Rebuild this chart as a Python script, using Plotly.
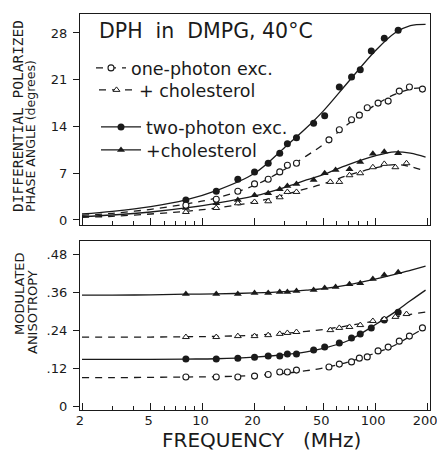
import plotly.graph_objects as go

# ---------------- data ----------------
# frequencies (MHz) of measured points
F_TP = [8, 12, 16, 20, 24, 28, 31, 35, 44, 51, 62, 73, 82, 95, 113, 136]        # two-photon
F_TPC = [8, 12, 16, 20, 24, 28, 31, 35, 44, 51, 59, 71, 82, 97, 113, 136]       # two-photon + chol
F_OP = [8, 12, 16, 20, 24, 28, 31, 35, 54, 62, 73, 81, 90, 104, 119, 138, 158, 188]  # one-photon
F_OPC = [8, 12, 16, 20, 24, 28, 31, 35, 55, 62, 71, 82, 97, 113, 131, 152]      # one-photon + chol

# differential polarized phase angle (degrees)
DPA_TP = [3.0, 4.3, 6.1, 7.2, 8.5, 10.0, 11.4, 12.3, 14.5, 15.6, 19.9, 21.4, 22.5, 25.3, 27.2, 28.4]
DPA_TPC = [1.8, 2.5, 3.0, 3.7, 4.0, 4.6, 5.1, 5.4, 6.0, 7.0, 7.5, 7.6, 8.7, 9.9, 10.2, 10.0]
DPA_OP = [2.2, 3.1, 4.3, 5.4, 6.1, 7.2, 8.2, 8.5, 12.0, 13.5, 15.0, 15.7, 16.8, 17.5, 17.8, 19.3, 19.9, 19.6]
DPA_OPC = [1.2, 1.8, 2.5, 2.7, 2.8, 3.4, 4.2, 4.2, 5.7, 5.7, 6.7, 7.0, 7.9, 8.4, 7.9, 8.5]

# modulated anisotropy
MA_TP = [0.149, 0.149, 0.152, 0.155, 0.159, 0.159, 0.165, 0.165, 0.178, 0.187, 0.200, 0.216, 0.229, 0.248, 0.273, 0.298]
MA_TPC = [0.356, 0.356, 0.356, 0.359, 0.359, 0.362, 0.362, 0.365, 0.368, 0.375, 0.378, 0.387, 0.390, 0.403, 0.416, 0.425]
MA_OP = [0.092, 0.092, 0.092, 0.095, 0.100, 0.108, 0.108, 0.114, 0.124, 0.133, 0.140, 0.152, 0.156, 0.175, 0.187, 0.206, 0.222, 0.248]
MA_OPC = [0.219, 0.219, 0.222, 0.222, 0.225, 0.229, 0.232, 0.235, 0.241, 0.248, 0.251, 0.257, 0.270, 0.276, 0.283, 0.292]

# fitted curves
F_FIT = [2, 3, 5, 8, 12, 20, 30, 40, 50, 70, 100, 130, 160, 196]
FIT_DPA_TP = [0.9, 1.3, 2.0, 3.0, 4.4, 7.0, 10.9, 13.8, 16.3, 20.7, 25.3, 28.0, 29.1, 29.3]
FIT_DPA_OP = [0.7, 1.0, 1.6, 2.4, 3.3, 5.2, 7.6, 9.6, 11.3, 14.4, 17.2, 18.8, 19.6, 19.8]
FIT_DPA_TPC = [0.5, 0.75, 1.2, 1.8, 2.5, 3.6, 4.9, 6.0, 6.8, 8.3, 9.6, 10.2, 10.0, 9.4]
FIT_DPA_OPC = [0.4, 0.55, 0.9, 1.3, 1.8, 2.7, 3.8, 4.7, 5.4, 6.7, 7.8, 8.3, 8.0, 7.3]

FIT_MA_TP = [0.148, 0.148, 0.148, 0.149, 0.150, 0.155, 0.163, 0.172, 0.183, 0.208, 0.258, 0.298, 0.334, 0.368]
FIT_MA_TPC = [0.352, 0.352, 0.353, 0.355, 0.356, 0.359, 0.363, 0.368, 0.373, 0.385, 0.403, 0.418, 0.431, 0.444]
FIT_MA_OP = [0.090, 0.090, 0.091, 0.092, 0.093, 0.097, 0.104, 0.112, 0.121, 0.140, 0.168, 0.193, 0.222, 0.250]
FIT_MA_OPC = [0.219, 0.219, 0.219, 0.220, 0.221, 0.225, 0.231, 0.237, 0.243, 0.255, 0.270, 0.282, 0.291, 0.298]

X_MAJOR = [2, 5, 10, 20, 50, 100, 200]
X_MINOR = [3, 4, 6, 7, 8, 9, 30, 40, 60, 70, 80, 90]
Y1_TICKS = [0, 7, 14, 21, 28]
Y2_TICKS = [0, 0.12, 0.24, 0.36, 0.48]
Y2_LABELS = ["0", ".12", ".24", ".36", ".48"]

# ---------------- styling ----------------
INK = "#1a1a1a"
FONT = "DejaVu Sans"
MONO = "DejaVu Sans Mono"
LW = 1.3
DASH = "7px,6px"

W, H = 437, 457
ML, MR, MT, MB = 80, 7, 14, 47
PW, PH = W - ML - MR, H - MT - MB


def py(p):  # pixel row -> paper y
    return (H - MB - p) / PH


def px(p):  # pixel column -> paper x
    return (p - ML) / PW


fig = go.Figure()

filled_c = dict(symbol="circle", size=7, color=INK, line=dict(width=0))
filled_t = dict(symbol="triangle-up", size=7, color=INK, line=dict(width=0))
open_t = dict(symbol="triangle-up", size=6, color="white", line=dict(width=1.0, color=INK))
open_c = dict(symbol="circle", size=6, color="white", line=dict(width=1.1, color=INK))

for xa, ya, fits, pts in [
    ("x", "y", [(FIT_DPA_TP, "solid"), (FIT_DPA_TPC, "solid"), (FIT_DPA_OP, DASH), (FIT_DPA_OPC, DASH)],
     [(F_TP, DPA_TP, filled_c), (F_TPC, DPA_TPC, filled_t), (F_OP, DPA_OP, open_c), (F_OPC, DPA_OPC, open_t)]),
    ("x2", "y2", [(FIT_MA_TP, "solid"), (FIT_MA_TPC, "solid"), (FIT_MA_OP, DASH), (FIT_MA_OPC, DASH)],
     [(F_TP, MA_TP, filled_c), (F_TPC, MA_TPC, filled_t), (F_OP, MA_OP, open_c), (F_OPC, MA_OPC, open_t)]),
]:
    for vals, dash in fits:
        fig.add_trace(go.Scatter(x=F_FIT, y=vals, xaxis=xa, yaxis=ya, mode="lines",
                                 line=dict(color=INK, width=LW, dash=dash, shape="spline", smoothing=1.0),
                                 showlegend=False, hoverinfo="skip"))
    for fx, vals, mk in pts:
        fig.add_trace(go.Scatter(x=fx, y=vals, xaxis=xa, yaxis=ya, mode="markers",
                                 marker=mk, showlegend=False, cliponaxis=False))

# legend entries (no data, legend only), each in its own legend box
LEG = [
    ("one-photon exc.", DASH, open_c, "legend", 68, 30, 91),
    ("+ cholesterol", DASH, open_t, "legend2", 90, 35, 94),
    ("two-photon exc.", "solid", filled_c, "legend3", 127, 40, 96),
    ("+cholesterol", "solid", filled_t, "legend4", 150, 40, 96),
]
leg_layout = {}
for name, dash, mk, leg, ypix, iw, xpix in LEG:
    fig.add_trace(go.Scatter(x=[None], y=[None], mode="lines+markers", name=name,
                             line=dict(color=INK, width=LW, dash=dash), marker=mk,
                             legend=leg, showlegend=True))
    leg_layout[leg] = dict(x=px(xpix), y=py(ypix), xanchor="left", yanchor="middle",
                           bgcolor="rgba(0,0,0,0)", font=dict(size=17.5, family=FONT, color=INK),
                           itemwidth=iw)

axis_common = dict(showline=True, linecolor=INK, linewidth=LW, mirror=True,
                   showgrid=False, zeroline=False, automargin=False)

xr = [0.2894, 2.318]
fig.update_layout(
    width=W, height=H,
    margin=dict(l=ML, r=MR, t=MT, b=MB, autoexpand=False),
    paper_bgcolor="white", plot_bgcolor="white",
    font=dict(family=FONT, color=INK, size=13),
    xaxis=dict(type="log", range=xr, domain=[0, 1], anchor="y",
               tickmode="array", tickvals=X_MAJOR, ticktext=[""] * len(X_MAJOR),
               ticks="inside", ticklen=7, tickwidth=1.2, tickcolor=INK,
               minor=dict(tickmode="array", tickvals=X_MINOR, ticks="inside", ticklen=4,
                          tickwidth=1.1, tickcolor=INK),
               **axis_common),
    yaxis=dict(range=[-0.75, 30.84], domain=[py(225), 1], anchor="x",
               tickmode="array", tickvals=Y1_TICKS, ticks="outside", ticklen=6,
               tickwidth=1.2, tickcolor=INK, tickfont=dict(size=13), ticklabelstandoff=3,
               **axis_common),
    xaxis2=dict(type="log", range=xr, domain=[0, 1], anchor="y2",
                tickmode="array", tickvals=X_MAJOR, ticktext=[str(v) for v in X_MAJOR],
                ticks="inside", ticklen=7, tickwidth=1.2, tickcolor=INK,
                tickfont=dict(size=13), ticklabelstandoff=-2, ticklabeloverflow="allow",
                ticklabelshift=-2,
                minor=dict(tickmode="array", tickvals=X_MINOR, ticks="inside", ticklen=4,
                           tickwidth=1.1, tickcolor=INK),
                **axis_common),
    yaxis2=dict(range=[-0.0127, 0.524], domain=[0, py(241)], anchor="x2",
                tickmode="array", tickvals=Y2_TICKS, ticktext=Y2_LABELS, ticks="outside",
                ticklen=6, tickwidth=1.2, tickcolor=INK, tickfont=dict(size=13),
                ticklabelstandoff=3, **axis_common),
    showlegend=True,
    **leg_layout,
)

ann = [
    dict(text="DPH  in  DMPG, 40°C", x=px(97), y=py(31), xanchor="left", yanchor="middle",
         font=dict(size=20.5)),
    dict(text="DIFFERENTIAL POLARIZED", x=px(18), y=py(214), xanchor="center", yanchor="bottom",
         textangle=-90, font=dict(size=14.5, family=MONO)),
    dict(text="PHASE ANGLE (degrees)", x=px(31), y=py(214), xanchor="center", yanchor="bottom",
         textangle=-90, font=dict(size=12.5)),
    dict(text="MODULATED", x=px(19), y=py(294), xanchor="center", yanchor="middle",
         textangle=-90, font=dict(size=13)),
    dict(text="ANISOTROPY", x=px(32), y=py(312), xanchor="center", yanchor="middle",
         textangle=-90, font=dict(size=13)),
    dict(text="FREQUENCY   (MHz)", x=px(261), y=py(440), xanchor="center", yanchor="middle",
         font=dict(size=20)),
]
for a in ann:
    a.update(xref="paper", yref="paper", showarrow=False)
fig.update_layout(annotations=ann)

fig.write_html("out.html", config={"displayModeBar": False},
               post_script="document.body.style.margin='0';")
